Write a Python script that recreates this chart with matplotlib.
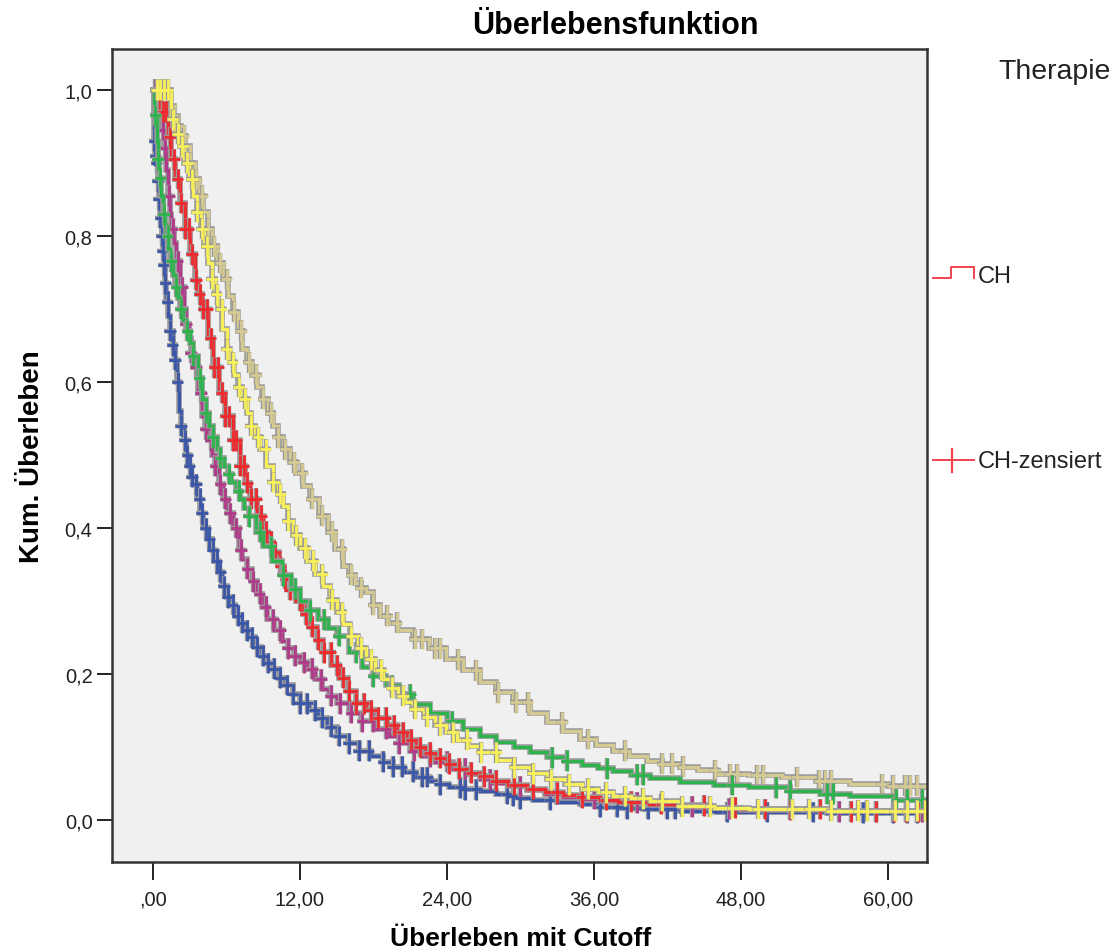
import numpy as np
import matplotlib
matplotlib.use("Agg")
import matplotlib.pyplot as plt
import matplotlib.patheffects as pe
from matplotlib.path import Path
from matplotlib.lines import Line2D

# ---------------- data ----------------
title = "Überlebensfunktion"
xlabel = "Überleben mit Cutoff"
ylabel = "Kum. Überleben"
legend_title = "Therapie"
legend_labels = ["CH", "CH-zensiert"]

x_ticks = [0, 12, 24, 36, 48, 60]
x_ticklabels = [",00", "12,00", "24,00", "36,00", "48,00", "60,00"]
y_ticks = [0.0, 0.2, 0.4, 0.6, 0.8, 1.0]
y_ticklabels = ["0,0", "0,2", "0,4", "0,6", "0,8", "1,0"]

# Kaplan-Meier curves as (month, cumulative survival) pairs
blue_km = [(0, 1.0), (0.05, 0.93), (0.2, 0.91), (0.3, 0.90), (0.4, 0.875), (0.5, 0.85), (0.6, 0.825), (0.7, 0.80),
           (0.8, 0.78), (0.9, 0.76), (1.0, 0.735), (1.1, 0.71), (1.25, 0.69), (1.4, 0.67), (1.6, 0.65), (1.8, 0.63),
           (1.95, 0.60), (2.1, 0.56), (2.3, 0.54), (2.5, 0.52), (2.7, 0.50), (2.9, 0.485), (3.1, 0.47), (3.3, 0.46),
           (3.6, 0.44), (3.85, 0.42), (4.1, 0.40), (4.5, 0.385), (4.8, 0.37), (5.0, 0.355), (5.3, 0.34), (5.6, 0.32),
           (6.0, 0.305), (6.3, 0.295), (6.7, 0.28), (7.0, 0.27), (7.5, 0.26), (7.9, 0.25), (8.3, 0.237), (8.8, 0.225),
           (9.3, 0.215), (9.8, 0.207), (10.3, 0.195), (10.8, 0.185), (11.4, 0.172), (12.0, 0.16), (12.7, 0.15),
           (13.5, 0.14), (14.2, 0.128), (15.0, 0.115), (15.9, 0.105), (16.8, 0.095), (17.8, 0.087), (18.8, 0.08),
           (19.6, 0.073), (20.5, 0.066), (21.5, 0.059), (22.5, 0.053), (23.3, 0.049), (24.2, 0.045), (25.4, 0.042),
           (26.7, 0.04), (28.0, 0.036), (29.0, 0.033), (30.0, 0.030), (31.0, 0.028), (33.0, 0.025), (34.9, 0.022),
           (36.5, 0.018), (38.0, 0.016), (40.0, 0.015), (43.0, 0.012), (46.0, 0.011), (50.0, 0.011), (55.0, 0.010),
           (63.2, 0.010)]
blue_censored = [0.1, 0.2, 0.3, 0.4, 0.5, 0.6, 0.7, 0.8, 0.9, 1.0, 1.2, 1.4, 1.6, 1.8, 2.0, 2.3, 2.6, 2.8, 3.0, 3.2,
                 3.5, 3.8, 4.0, 4.3, 4.6, 4.9, 5.2, 5.5, 5.8, 6.1, 6.5, 6.9, 7.3, 7.7, 8.1, 8.5, 9.0, 9.4, 9.9, 10.4,
                 10.9, 11.4, 12.0, 12.6, 13.2, 13.8, 14.5, 15.2, 16.0, 16.8, 17.6, 18.8, 19.6, 20.3, 21.2, 22.0, 22.4,
                 23.4, 25.1, 25.5, 26.4, 28.9, 29.4, 30.0, 32.4, 36.5, 37.9, 38.7, 40.4, 42.0, 42.6, 46.9, 50.1, 53.9,
                 58.0, 60.4, 61.6, 62.4]

magenta_km = [(0, 1.0), (0.3, 0.99), (0.6, 0.97), (0.75, 0.945), (0.9, 0.92), (1.05, 0.89), (1.2, 0.855), (1.35, 0.83),
              (1.5, 0.81), (1.7, 0.79), (1.9, 0.765), (2.2, 0.73), (2.5, 0.70), (2.7, 0.68), (2.9, 0.66), (3.1, 0.64),
              (3.3, 0.62), (3.65, 0.585), (4.0, 0.553), (4.25, 0.535), (4.5, 0.52), (4.8, 0.50), (5.1, 0.485),
              (5.4, 0.46), (5.7, 0.44), (6.1, 0.42), (6.5, 0.40), (7.0, 0.37), (7.3, 0.357), (7.7, 0.344),
              (8.1, 0.327), (8.5, 0.31), (8.9, 0.292), (9.3, 0.275), (9.9, 0.26), (10.5, 0.245), (11.0, 0.235),
              (11.5, 0.225), (12.0, 0.216), (12.6, 0.207), (13.2, 0.193), (13.8, 0.18), (14.4, 0.17), (15.0, 0.16),
              (16.0, 0.147), (17.0, 0.135), (18.1, 0.125), (19.3, 0.115), (20.1, 0.105), (21.0, 0.095), (22.0, 0.087),
              (23.0, 0.08), (24.5, 0.07), (25.6, 0.063), (26.7, 0.056), (27.8, 0.051), (29.0, 0.046), (30.5, 0.041),
              (32.0, 0.036), (33.5, 0.032), (34.9, 0.029), (36.5, 0.026), (38.0, 0.024), (40.5, 0.021), (43.0, 0.018),
              (45.5, 0.016), (48.0, 0.014), (55.0, 0.012), (63.2, 0.011)]
magenta_censored = [0.2, 0.5, 0.8, 1.0, 1.3, 1.6, 2.0, 2.4, 2.7, 3.1, 3.5, 3.9, 4.3, 4.7, 5.1, 5.5, 5.9, 6.3, 6.8, 7.2,
                    7.7, 8.2, 8.7, 9.2, 9.8, 10.4, 11.0, 11.6, 12.3, 13.0, 13.7, 14.5, 15.3, 16.2, 17.1, 18.0, 19.0,
                    20.1, 21.3, 22.6, 24.0, 25.5, 27.5, 30.0, 33.0, 36.0, 39.5, 44.0, 47.0, 52.0, 56.0, 59.0, 61.5, 62.8]

red_km = [(0, 1.0), (0.6, 0.97), (1.2, 0.935), (1.5, 0.905), (1.8, 0.878), (2.2, 0.845), (2.6, 0.81), (3.0, 0.775),
          (3.4, 0.74), (3.7, 0.72), (4.0, 0.70), (4.45, 0.66), (4.9, 0.62), (5.4, 0.585), (5.9, 0.553), (6.5, 0.52),
          (7.1, 0.485), (7.5, 0.462), (7.9, 0.44), (8.45, 0.417), (9.0, 0.395), (9.4, 0.381), (9.8, 0.367),
          (10.25, 0.348), (10.7, 0.33), (11.2, 0.315), (11.7, 0.30), (12.25, 0.282), (12.8, 0.265), (13.35, 0.247),
          (13.9, 0.23), (14.55, 0.212), (15.2, 0.195), (15.9, 0.177), (16.6, 0.16), (17.4, 0.15), (18.3, 0.14),
          (19.1, 0.13), (19.9, 0.12), (20.7, 0.11), (21.5, 0.10), (22.2, 0.092), (23.0, 0.085), (24.0, 0.077),
          (25.0, 0.07), (25.8, 0.065), (26.7, 0.06), (27.8, 0.054), (29.0, 0.048), (30.5, 0.043), (32.0, 0.038),
          (33.5, 0.034), (34.9, 0.031), (36.5, 0.028), (38.0, 0.025), (40.5, 0.022), (43.0, 0.02), (45.5, 0.017),
          (48.0, 0.015), (55.0, 0.012), (63.2, 0.011)]
red_censored = [0.8, 1.1, 1.4, 1.7, 2.0, 2.3, 2.6, 2.9, 3.2, 3.5, 3.8, 4.1, 4.4, 4.7, 5.0, 5.3, 5.6, 5.9, 6.2, 6.5,
                6.8, 7.1, 7.4, 7.7, 8.0, 8.4, 8.8, 9.2, 9.6, 10.0, 10.4, 10.8, 11.2, 11.6, 12.0, 12.5, 13.0, 13.5,
                14.0, 14.5, 15.0, 15.5, 16.0, 16.6, 17.2, 17.8, 18.4, 19.0, 19.7, 20.4, 21.1, 21.8, 22.6, 23.4, 24.2,
                25.0, 26.0, 27.0, 28.0, 29.5, 31.0, 33.0, 35.0, 37.0, 39.0, 41.5, 45.0, 47.5, 50.0, 52.0, 54.5, 57.0,
                59.0, 60.5, 61.5, 62.5]

green_km = [(0, 1.0), (0.1, 0.965), (0.3, 0.93), (0.4, 0.905), (0.5, 0.88), (0.65, 0.855), (0.8, 0.83), (0.95, 0.815),
            (1.1, 0.80), (1.25, 0.782), (1.4, 0.765), (1.6, 0.747), (1.8, 0.73), (2.0, 0.715), (2.2, 0.70),
            (2.45, 0.685), (2.7, 0.67), (3.0, 0.653), (3.3, 0.636), (3.65, 0.605), (4.0, 0.577), (4.3, 0.558),
            (4.6, 0.54), (4.9, 0.524), (5.2, 0.508), (5.5, 0.496), (5.8, 0.485), (6.1, 0.474), (6.4, 0.463),
            (6.75, 0.451), (7.1, 0.44), (7.45, 0.428), (7.8, 0.416), (8.4, 0.395), (9.0, 0.375), (9.75, 0.355),
            (10.5, 0.335), (11.25, 0.317), (12.0, 0.30), (12.75, 0.287), (13.5, 0.275), (14.25, 0.263), (15.0, 0.252),
            (16.0, 0.23), (17.1, 0.21), (18.0, 0.197), (19.0, 0.185), (20.1, 0.172), (21.2, 0.159), (22.6, 0.146),
            (24.0, 0.135), (25.3, 0.125), (26.7, 0.115), (28.0, 0.107), (29.5, 0.10), (30.8, 0.093), (32.2, 0.086),
            (33.6, 0.081), (35.0, 0.076), (36.3, 0.071), (37.6, 0.067), (39.0, 0.062), (40.6, 0.058), (43.0, 0.052),
            (45.8, 0.048), (48.7, 0.045), (52.0, 0.04), (54.5, 0.036), (56.9, 0.033), (60.5, 0.028), (63.2, 0.026)]
green_censored = [0.2, 0.4, 0.6, 0.9, 1.2, 1.5, 1.9, 2.3, 2.8, 3.3, 3.8, 4.3, 4.9, 5.5, 6.2, 7.0, 7.8, 8.7, 9.6, 10.6,
                  11.6, 12.8, 14.0, 15.2, 16.6, 18.0, 19.5, 21.0, 24.4, 32.6, 33.8, 37.1, 39.5, 40.0, 47.3, 50.9, 52.0,
                  55.0, 55.5, 60.7, 61.6, 62.8]

yellow_km = [(0, 1.0), (1.2, 1.0), (1.5, 0.96), (1.85, 0.94), (2.2, 0.923), (2.55, 0.90), (2.9, 0.878), (3.25, 0.855),
             (3.6, 0.833), (3.9, 0.81), (4.2, 0.786), (4.5, 0.763), (4.8, 0.741), (5.05, 0.72), (5.3, 0.70),
             (5.65, 0.672), (6.0, 0.645), (6.3, 0.627), (6.6, 0.61), (6.95, 0.593), (7.3, 0.577), (7.65, 0.558),
             (8.0, 0.54), (8.35, 0.524), (8.7, 0.508), (9.25, 0.485), (9.8, 0.463), (10.2, 0.447), (10.6, 0.43),
             (11.0, 0.41), (11.4, 0.39), (12.0, 0.372), (12.6, 0.355), (13.25, 0.337), (13.9, 0.32), (14.45, 0.302),
             (15.0, 0.285), (15.55, 0.268), (16.1, 0.252), (16.75, 0.236), (17.4, 0.22), (18.1, 0.206), (18.8, 0.193),
             (19.4, 0.181), (20.0, 0.17), (20.6, 0.161), (21.2, 0.152), (22.1, 0.141), (23.0, 0.13), (23.9, 0.12),
             (24.8, 0.11), (25.7, 0.101), (26.7, 0.093), (28.1, 0.082), (29.5, 0.072), (30.8, 0.064), (32.2, 0.056),
             (33.6, 0.049), (35.0, 0.043), (36.3, 0.038), (37.6, 0.033), (39.0, 0.03), (40.6, 0.026), (43.0, 0.019),
             (45.8, 0.017), (48.7, 0.015), (55.0, 0.013), (63.2, 0.011)]
yellow_censored = [0.3, 0.6, 0.9, 1.2, 1.6, 2.0, 2.4, 2.8, 3.2, 3.6, 4.0, 4.4, 4.8, 5.2, 5.6, 6.0, 6.5, 7.0, 7.5, 8.0,
                   8.6, 9.2, 9.8, 10.4, 11.0, 11.7, 12.4, 13.1, 13.8, 14.6, 15.4, 16.2, 17.0, 17.8, 18.6, 19.5, 20.4,
                   21.4, 22.4, 23.4, 24.5, 25.6, 26.8, 28.0, 29.5, 31.0, 32.5, 34.0, 35.5, 37.0, 38.5, 40.0, 41.6,
                   43.2, 45.5, 47.3, 49.4, 52.2, 53.6, 55.4, 57.6, 58.3, 60.6, 61.6, 62.4, 63.0]

tan_km = [(0, 1.0), (0.8, 1.0), (1.1, 0.99), (1.4, 0.978), (1.7, 0.964), (2.0, 0.95), (2.3, 0.937), (2.6, 0.923),
          (3.0, 0.90), (3.4, 0.878), (3.75, 0.855), (4.1, 0.833), (4.45, 0.81), (4.8, 0.786), (5.25, 0.763),
          (5.7, 0.741), (6.1, 0.718), (6.5, 0.696), (6.9, 0.67), (7.3, 0.645), (7.7, 0.627), (8.1, 0.61), (8.5, 0.593),
          (8.9, 0.577), (9.35, 0.558), (9.8, 0.54), (10.2, 0.524), (10.6, 0.508), (11.15, 0.49), (11.7, 0.475),
          (12.25, 0.457), (12.8, 0.44), (13.55, 0.417), (14.3, 0.395), (14.9, 0.371), (15.5, 0.348), (16.0, 0.336),
          (16.5, 0.325), (17.0, 0.318), (17.4, 0.312), (18.0, 0.295), (18.5, 0.28), (19.2, 0.27), (20.0, 0.26),
          (21.2, 0.248), (22.5, 0.235), (23.9, 0.22), (25.3, 0.205), (26.7, 0.189), (28.0, 0.175), (29.4, 0.161),
          (30.8, 0.147), (32.2, 0.134), (33.5, 0.122), (34.9, 0.111), (36.2, 0.103), (37.6, 0.095), (38.9, 0.088),
          (40.3, 0.081), (41.6, 0.077), (43.0, 0.073), (44.5, 0.068), (46.0, 0.063), (48.7, 0.061), (51.4, 0.059),
          (54.1, 0.054), (56.9, 0.049), (60.0, 0.047), (63.2, 0.045)]
tan_censored = [0.5, 1.0, 1.5, 2.0, 2.5, 3.0, 3.5, 4.0, 4.5, 5.0, 5.5, 6.0, 6.6, 7.2, 7.8, 8.4, 9.0, 9.6, 10.2, 10.8,
                11.5, 12.2, 13.0, 13.8, 14.6, 15.4, 16.2, 17.0, 18.0, 19.1, 19.9, 21.4, 22.0, 23.0, 23.4, 24.9, 26.4,
                28.2, 29.6, 30.6, 33.4, 35.5, 38.5, 41.6, 42.4, 43.3, 45.9, 47.1, 47.7, 49.3, 49.8, 52.6, 54.4, 54.9,
                55.4, 59.5, 60.4, 61.4, 61.8, 62.4]

# drawing order (bottom -> top)
groups = [
    (tan_km, tan_censored, "#D5CB92"),
    (blue_km, blue_censored, "#3A56A8"),
    (magenta_km, magenta_censored, "#B0398A"),
    (red_km, red_censored, "#EE2A2E"),
    (green_km, green_censored, "#2DB34B"),
    (yellow_km, yellow_censored, "#F8F05A"),
]

# ---------------- figure ----------------
W, H = 1114, 953
fig = plt.figure(figsize=(W / 100, H / 100), dpi=100, facecolor="white")
ax = fig.add_axes([112 / W, 1 - 863 / H, (927 - 112) / W, (863 - 50) / H])
ax.set_facecolor("#F0F0F0")

reg_font = ["Liberation Sans", "DejaVu Sans"]

tall_plus = Path([[-0.55, 0], [0.55, 0], [0, -1], [0, 1]],
                 [Path.MOVETO, Path.LINETO, Path.MOVETO, Path.LINETO])

halo = [pe.Stroke(linewidth=4.0, foreground="#9A9A9A"), pe.Normal()]
halo_m = [pe.Stroke(linewidth=3.2, foreground="#9A9A9A"), pe.Normal()]

for km, cens, col in groups:
    arr = np.asarray(km, dtype=float)
    t, s = arr[:, 0], arr[:, 1]
    ax.step(t, s, where="post", color=col, lw=2.4, path_effects=halo,
            solid_joinstyle="miter", clip_on=True)
    c = np.asarray(cens, dtype=float)
    idx = np.searchsorted(t, c, side="right") - 1
    ax.plot(c, s[idx], linestyle="none", marker=tall_plus, markersize=15,
            markeredgewidth=2.0, color=col, path_effects=halo_m, clip_on=True)

ax.set_xlim(-3.35, 63.2)
ax.set_ylim(-0.0575, 1.056)
ax.set_xticks(x_ticks)
ax.set_xticklabels(x_ticklabels, fontsize=14.5, family=reg_font, color="#222222")
ax.set_yticks(y_ticks)
ax.set_yticklabels(y_ticklabels, fontsize=14.5, family=reg_font, color="#222222")
ax.tick_params(axis="x", direction="out", length=13, width=1.4, pad=7, color="#222222")
ax.tick_params(axis="y", direction="out", length=11, width=1.4, pad=3, color="#222222")
for sp in ax.spines.values():
    sp.set_color("#333333")
    sp.set_linewidth(1.8)

ax.set_ylabel(ylabel, fontsize=20, fontweight="bold", family=reg_font, labelpad=14)
fig.text(521 / W, 1 - 946 / H, xlabel, ha="center", va="baseline",
         fontsize=19, fontweight="bold", family=reg_font)

fig.text(615 / W, 1 - 26 / H, title, ha="center", va="center",
         fontsize=22, fontweight="bold", family=reg_font)

# ---------------- legend (drawn by hand, like SPSS) ----------------
fig.text(998 / W, 1 - 72 / H, legend_title, ha="left", va="center",
         fontsize=20.5, family=reg_font, color="#222222")


def fx(px):
    return px / W


def fy(py):
    return 1 - py / H


leg_col = "#F0444F"
fig.add_artist(Line2D([fx(933), fx(951), fx(951), fx(974), fx(974)],
                      [fy(279), fy(279), fy(268), fy(268), fy(279)],
                      color=leg_col, lw=1.4, transform=fig.transFigure))
fig.text(978 / W, 1 - 277 / H, legend_labels[0], ha="left", va="center",
         fontsize=17, family=reg_font, color="#222222")

fig.add_artist(Line2D([fx(933), fx(974)], [fy(461), fy(461)],
                      color=leg_col, lw=1.4, transform=fig.transFigure))
fig.add_artist(Line2D([fx(952), fx(952)], [fy(450), fy(473)],
                      color=leg_col, lw=1.6, transform=fig.transFigure))
fig.text(978 / W, 1 - 462 / H, legend_labels[1], ha="left", va="center",
         fontsize=17, family=reg_font, color="#222222")

fig.savefig("out.png", dpi=100, facecolor="white")
